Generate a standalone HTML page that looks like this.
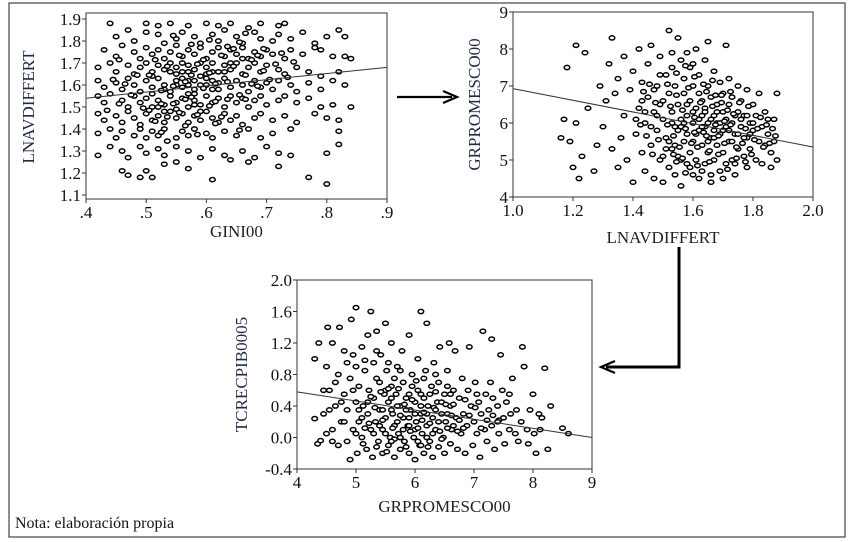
<!DOCTYPE html>
<html><head><meta charset="utf-8">
<style>
html,body{margin:0;padding:0;background:#fff;}
svg{display:block;}
text{font-family:"Liberation Serif","Times New Roman",serif;}
</style></head>
<body>
<svg id="fig" width="850" height="542" viewBox="0 0 850 542" xmlns="http://www.w3.org/2000/svg">
<rect x="9" y="3" width="836" height="534" fill="none" stroke="#444" stroke-width="1.2"/>
<text x="15" y="528" font-size="16" fill="#111" font-family="Liberation Serif, serif">Nota: elaboración propia</text>
<g>
<line x1="397" y1="97" x2="452" y2="97" stroke="#000" stroke-width="2.2"/>
<path d="M443,91 L457,97 L443,103" fill="none" stroke="#000" stroke-width="2.2"/>
</g>
<g>
<path d="M679,247 L679,367 L606,367" fill="none" stroke="#000" stroke-width="3"/>
<path d="M615,361 L601,367 L615,373" fill="none" stroke="#000" stroke-width="2.2"/>
</g>
</svg>
<script>
const NS="http://www.w3.org/2000/svg";
const svg=document.getElementById('fig');

// ---- Chart 1 data: GINI00 vs LNAVDIFFERT
const c1XTicks=[.4,.5,.6,.7,.8,.9];
const c1XLabels=[".4",".5",".6",".7",".8",".9"];
const c1YTicks=[1.1,1.2,1.3,1.4,1.5,1.6,1.7,1.8,1.9];
const c1YLabels=["1.1","1.2","1.3","1.4","1.5","1.6","1.7","1.8","1.9"];
const c1Fit=[1.54,1.68];
const c1Points="0.44,1.88 .47,1.85 .50,1.88 .52,1.87 .54,1.88 .57,1.87 .60,1.88 .62,1.87 .64,1.88 .67,1.86 .69,1.88 .72,1.87 .73,1.88 .45,1.82 .48,1.80 .50,1.84 .52,1.83 .53,1.79 .55,1.81 .56,1.84 .58,1.82 .59,1.79 .61,1.83 .62,1.80 .63,1.85 .65,1.82 .66,1.79 .68,1.84 .69,1.81 .71,1.80 .72,1.83 .74,1.81 .76,1.84 .78,1.79 .80,1.82 .82,1.85 .83,1.82 .43,1.76 .45,1.73 .46,1.78 .48,1.75 .49,1.72 .50,1.77 .51,1.74 .52,1.76 .53,1.72 .54,1.75 .55,1.78 .56,1.73 .57,1.76 .58,1.74 .59,1.77 .60,1.72 .61,1.75 .62,1.77 .63,1.73 .64,1.76 .65,1.74 .66,1.77 .67,1.72 .68,1.75 .69,1.73 .70,1.76 .71,1.74 .73,1.72 .74,1.76 .76,1.74 .78,1.77 .79,1.76 .81,1.73 .83,1.73 .84,1.72 .42,1.68 .44,1.70 .45,1.66 .47,1.69 .48,1.65 .49,1.68 .50,1.70 .51,1.66 .52,1.69 .53,1.67 .54,1.70 .55,1.65 .55,1.68 .56,1.70 .57,1.66 .57,1.69 .58,1.67 .59,1.70 .60,1.65 .60,1.68 .61,1.70 .62,1.66 .63,1.69 .64,1.67 .65,1.70 .66,1.65 .67,1.68 .68,1.70 .69,1.66 .70,1.69 .72,1.67 .73,1.65 .75,1.68 .77,1.66 .79,1.64 .82,1.66 .42,1.62 .43,1.59 .45,1.61 .46,1.58 .47,1.63 .48,1.60 .49,1.57 .50,1.62 .51,1.59 .52,1.63 .53,1.60 .54,1.57 .55,1.62 .56,1.59 .56,1.63 .57,1.60 .58,1.58 .58,1.62 .59,1.60 .60,1.63 .61,1.58 .62,1.61 .63,1.63 .64,1.59 .65,1.62 .66,1.60 .67,1.57 .68,1.62 .69,1.59 .70,1.61 .71,1.58 .72,1.62 .74,1.60 .75,1.57 .77,1.61 .79,1.58 .81,1.62 .83,1.60 .42,1.55 .43,1.52 .44,1.56 .46,1.53 .47,1.50 .48,1.55 .49,1.52 .50,1.54 .51,1.50 .51,1.56 .52,1.53 .53,1.51 .54,1.55 .55,1.52 .56,1.54 .57,1.50 .57,1.56 .58,1.53 .59,1.51 .60,1.55 .61,1.52 .62,1.54 .63,1.50 .64,1.55 .65,1.52 .66,1.54 .67,1.50 .68,1.53 .69,1.55 .70,1.51 .72,1.53 .73,1.55 .75,1.52 .77,1.54 .79,1.50 .81,1.51 .84,1.50 .42,1.47 .43,1.44 .45,1.46 .46,1.43 .47,1.48 .48,1.45 .49,1.42 .50,1.47 .51,1.44 .52,1.46 .53,1.43 .54,1.48 .55,1.45 .56,1.47 .57,1.43 .58,1.46 .59,1.44 .60,1.48 .61,1.45 .62,1.43 .63,1.47 .64,1.44 .65,1.46 .66,1.42 .68,1.45 .69,1.47 .71,1.44 .73,1.46 .75,1.43 .78,1.47 .80,1.45 .82,1.44 .42,1.38 .44,1.40 .45,1.36 .46,1.39 .48,1.37 .49,1.40 .50,1.36 .51,1.39 .52,1.37 .53,1.40 .55,1.36 .56,1.39 .57,1.37 .58,1.40 .60,1.38 .61,1.36 .63,1.39 .65,1.37 .67,1.40 .69,1.36 .71,1.38 .74,1.40 .82,1.39 .42,1.28 .44,1.32 .46,1.30 .47,1.27 .49,1.32 .50,1.29 .52,1.31 .53,1.28 .55,1.32 .57,1.30 .59,1.27 .61,1.31 .63,1.28 .66,1.30 .68,1.27 .70,1.32 .72,1.29 .74,1.28 .80,1.29 .82,1.33 .46,1.21 .47,1.19 .49,1.18 .50,1.21 .51,1.18 .53,1.24 .55,1.25 .57,1.22 .61,1.17 .64,1.26 .67,1.25 .72,1.23 .77,1.18 .80,1.15 .51,1.64 .53,1.58 .55,1.60 .56,1.66 .57,1.62 .58,1.56 .59,1.64 .60,1.60 .61,1.66 .62,1.58 .52,1.50 .53,1.48 .55,1.49 .58,1.51 .59,1.48 .61,1.62 .63,1.66 .64,1.70 .66,1.72 .54,1.66 .505,1.645 .515,1.715 .525,1.575 .535,1.685 .545,1.515 .555,1.735 .565,1.615 .575,1.545 .585,1.695 .595,1.585 .605,1.655 .615,1.525 .625,1.735 .635,1.615 .645,1.685 .655,1.555 .665,1.645 .675,1.715 .685,1.595 .695,1.665 .505,1.485 .515,1.435 .525,1.515 .535,1.455 .545,1.595 .555,1.475 .565,1.535 .575,1.645 .585,1.465 .595,1.715 .605,1.505 .615,1.605 .625,1.455 .635,1.535 .645,1.765 .655,1.795 .665,1.535 .675,1.605 .685,1.735 .705,1.625 .715,1.695 .725,1.745 .735,1.635 .745,1.705 .455,1.515 .465,1.605 .475,1.555 .485,1.645 .495,1.495 .435,1.485 .445,1.625 .455,1.715 .545,1.825 .575,1.785 .605,1.805 .635,1.775 .665,1.835 .695,1.765 .525,1.385 .565,1.415 .585,1.375 .535,1.345 .615,1.425 .655,1.395";

// ---- Chart 2 data: LNAVDIFFERT vs GRPROMESCO00
const c2XTicks=[1.0,1.2,1.4,1.6,1.8,2.0];
const c2XLabels=["1.0","1.2","1.4","1.6","1.8","2.0"];
const c2YTicks=[4,5,6,7,8,9];
const c2YLabels=["4","5","6","7","8","9"];
const c2Fit=[6.93,5.35];
const c2Points="1.16,5.6 1.17,6.1 1.18,7.5 1.19,5.5 1.20,4.8 1.21,6.0 1.22,4.5 1.23,5.1 1.21,8.1 1.24,7.9 1.25,6.4 1.27,4.7 1.28,5.4 1.29,7.0 1.30,5.9 1.31,6.6 1.32,7.6 1.33,8.3 1.33,5.3 1.34,6.8 1.35,4.8 1.35,7.2 1.36,5.6 1.37,6.2 1.37,7.8 1.38,5.0 1.39,6.9 1.40,4.4 1.40,7.4 1.41,5.7 1.42,6.4 1.42,8.0 1.43,5.2 1.43,7.1 1.44,6.0 1.44,4.7 1.45,6.7 1.45,7.6 1.46,5.4 1.46,8.1 1.47,6.3 1.47,4.5 1.48,7.0 1.48,5.8 1.49,6.5 1.49,7.8 1.50,5.1 1.50,6.1 1.50,4.4 1.51,7.3 1.51,5.6 1.52,6.8 1.52,8.5 1.53,5.3 1.53,6.3 1.53,7.5 1.54,4.6 1.54,5.9 1.54,7.0 1.55,6.5 1.55,5.1 1.55,8.3 1.56,6.1 1.56,7.7 1.56,4.3 1.57,5.5 1.57,6.8 1.57,7.2 1.58,4.9 1.58,6.2 1.58,5.7 1.59,7.5 1.59,6.6 1.59,5.2 1.60,4.6 1.60,6.0 1.60,7.0 1.60,5.5 1.61,6.4 1.61,8.0 1.61,5.0 1.62,6.8 1.62,5.8 1.62,7.3 1.62,4.5 1.63,6.2 1.63,5.4 1.63,6.6 1.64,7.7 1.64,5.9 1.64,4.9 1.64,6.4 1.65,5.2 1.65,7.0 1.65,6.0 1.65,8.2 1.66,5.6 1.66,6.7 1.66,4.4 1.67,6.2 1.67,5.0 1.67,7.4 1.67,5.8 1.68,6.5 1.68,5.4 1.68,6.0 1.69,7.1 1.69,4.7 1.69,5.7 1.70,6.3 1.70,5.2 1.70,6.8 1.71,5.9 1.71,8.1 1.71,4.9 1.72,6.5 1.72,5.5 1.72,7.2 1.73,6.0 1.73,5.0 1.73,6.7 1.74,5.7 1.74,4.6 1.75,6.3 1.75,5.3 1.75,7.0 1.76,5.9 1.76,6.6 1.77,5.1 1.77,6.2 1.78,5.6 1.78,6.9 1.78,4.8 1.79,6.0 1.79,5.3 1.80,6.5 1.80,5.8 1.81,5.0 1.81,6.2 1.82,5.5 1.82,6.8 1.83,5.9 1.83,4.9 1.84,6.3 1.84,5.4 1.85,5.7 1.85,6.1 1.86,5.2 1.86,4.8 1.87,5.5 1.87,6.1 1.88,5.0 1.88,6.8 1.55,5.8 1.57,6.0 1.58,6.5 1.60,6.3 1.61,5.7 1.62,6.1 1.63,5.9 1.64,6.3 1.65,5.5 1.66,6.1 1.67,5.6 1.68,6.3 1.69,6.0 1.70,5.8 1.71,6.1 1.72,5.8 1.73,5.5 1.74,6.2 1.75,5.7 1.76,6.1 1.77,5.6 1.78,6.2 1.79,5.7 1.80,6.0 1.52,5.5 1.53,6.0 1.54,5.4 1.56,5.9 1.48,6.2 1.46,5.9 1.47,6.9 1.50,6.6 1.51,5.3 1.44,6.3 1.43,6.6 1.41,6.1 1.49,5.0 1.52,4.8 1.56,5.0 1.59,4.8 1.63,4.7 1.66,4.6 1.70,4.5 1.74,4.9 1.58,7.9 1.60,7.6 1.53,7.9 1.49,7.3 1.515,5.95 1.525,6.45 1.535,5.65 1.545,6.75 1.555,5.35 1.565,6.35 1.575,5.85 1.585,6.95 1.595,5.45 1.605,6.15 1.615,5.35 1.625,6.55 1.635,5.75 1.645,6.85 1.655,5.25 1.665,6.45 1.675,5.95 1.685,5.65 1.695,6.55 1.705,5.45 1.715,6.35 1.725,5.95 1.735,6.25 1.745,5.35 1.755,6.55 1.765,5.45 1.775,5.85 1.785,6.45 1.795,5.15 1.805,5.55 1.815,5.85 1.825,6.15 1.835,5.35 1.845,5.95 1.855,5.45 1.865,5.85 1.875,5.65 1.485,5.55 1.475,6.55 1.465,5.15 1.455,7.05 1.445,5.65 1.435,6.85 1.425,5.95 1.515,7.05 1.545,7.35 1.575,7.55 1.605,7.25 1.635,7.05 1.665,7.15 1.695,6.75 1.725,6.85 1.545,4.95 1.575,4.65 1.615,4.85 1.655,4.95 1.685,5.15 1.715,4.75 1.745,5.05 1.775,4.95 1.535,5.15 1.565,5.05 1.605,5.75 1.645,5.65 1.675,6.75 1.705,6.05";

// ---- Chart 3 data: GRPROMESCO00 vs TCRECPIB0005
const c3XTicks=[4,5,6,7,8,9];
const c3XLabels=["4","5","6","7","8","9"];
const c3YTicks=[-0.4,0,0.4,0.8,1.2,1.6,2.0];
const c3YLabels=["-0.4","0.0","0.4","0.8","1.2","1.6","2.0"];
const c3Fit=[0.58,0.0];
const c3Points="4.3,0.24 4.3,1.0 4.35,-0.08 4.37,1.2 4.4,-0.04 4.45,0.3 4.5,0.9 4.52,1.4 4.55,0.6 4.6,0.1 4.6,1.2 4.65,0.4 4.7,0.8 4.7,-0.1 4.72,1.4 4.75,0.2 4.8,0.55 4.8,1.1 4.85,-0.05 4.85,0.35 4.9,0.75 4.9,-0.28 4.92,1.5 4.95,0.1 5.0,0.45 5.0,0.9 5.0,1.65 5.02,-0.2 5.05,0.2 5.05,0.65 5.1,1.15 5.1,0.0 5.12,0.4 5.15,0.85 5.18,-0.15 5.2,0.3 5.2,1.3 5.22,0.6 5.25,0.1 5.25,1.6 5.28,-0.25 5.3,0.5 5.3,0.95 5.33,0.2 5.35,1.35 5.38,-0.05 5.4,0.7 5.4,0.35 5.42,1.05 5.45,0.1 5.45,-0.2 5.48,0.55 5.5,1.45 5.5,0.25 5.52,0.85 5.55,-0.1 5.55,0.45 5.58,0.0 5.6,0.65 5.6,1.2 5.62,0.3 5.65,-0.25 5.65,0.15 5.68,0.55 5.7,0.9 5.72,0.05 5.75,0.4 5.75,-0.15 5.78,1.1 5.8,0.25 5.8,0.7 5.82,-0.05 5.85,0.5 5.88,0.15 5.9,1.3 5.9,-0.2 5.92,0.35 5.95,0.8 5.98,0.0 6.0,0.45 6.0,-0.28 6.02,0.2 6.05,0.6 6.05,1.0 6.08,-0.1 6.1,0.3 6.1,1.6 6.12,0.05 6.15,0.5 6.15,-0.2 6.18,0.85 6.2,0.15 6.2,1.45 6.22,0.4 6.25,-0.05 6.28,0.65 6.3,0.25 6.3,-0.25 6.32,0.95 6.35,0.1 6.38,0.45 6.4,-0.12 6.4,0.7 6.42,1.15 6.45,0.3 6.48,0.0 6.5,0.55 6.5,-0.2 6.52,0.2 6.55,0.85 6.58,1.2 6.6,0.4 6.6,-0.08 6.62,0.1 6.65,0.6 6.68,1.1 6.7,0.25 6.72,-0.15 6.75,0.5 6.78,0.05 6.8,0.75 6.82,0.3 6.85,-0.2 6.88,0.15 6.9,0.6 6.92,1.15 6.95,0.4 6.98,-0.1 7.0,0.2 7.02,0.7 7.05,0.05 7.08,0.45 7.1,-0.25 7.12,0.3 7.15,1.35 7.18,0.1 7.2,0.55 7.22,-0.05 7.25,0.35 7.28,0.7 7.3,1.25 7.3,0.15 7.32,0.5 7.35,-0.15 7.4,0.4 7.42,0.05 7.45,1.05 7.48,0.6 7.5,0.25 7.52,-0.08 7.55,0.45 7.6,0.1 7.62,0.3 7.65,0.75 7.7,0.05 7.72,0.35 7.75,-0.05 7.8,0.2 7.82,1.15 7.85,0.9 7.9,0.1 7.92,-0.08 7.95,0.35 8.0,0.55 8.02,0.05 8.05,-0.2 8.1,0.3 8.12,0.1 8.15,0.25 8.2,0.88 8.25,-0.15 8.3,0.4 8.5,0.12 8.6,0.05 5.3,0.05 5.4,0.15 5.5,0.05 5.6,0.35 5.7,0.2 5.8,0.1 5.9,0.25 6.0,0.1 6.1,0.4 6.2,0.3 6.3,0.05 6.4,0.2 5.5,0.6 5.6,0.5 5.7,0.4 5.9,0.55 6.0,0.3 6.1,-0.1 6.2,0.0 5.2,0.45 5.1,0.25 5.0,0.05 4.95,0.6 4.8,0.2 5.35,0.75 5.65,0.75 6.25,0.55 6.45,0.45 6.55,0.3 6.65,0.15 5.45,0.35 5.85,0.35 6.05,-0.05 5.75,0.0 5.05,0.35 5.15,0.12 5.25,0.52 5.35,-0.12 5.45,0.22 5.55,0.62 5.65,-0.02 5.75,0.28 5.85,-0.12 5.95,0.48 6.05,0.12 6.15,0.32 6.25,0.18 6.35,0.58 6.45,-0.02 6.55,0.12 6.65,0.42 6.75,0.22 6.85,0.48 5.12,-0.08 5.22,0.18 5.32,0.38 5.42,0.58 5.52,-0.18 5.62,0.12 5.72,0.62 5.82,0.42 5.92,0.08 6.02,0.72 6.12,0.22 6.22,-0.12 6.32,0.38 6.42,0.08 6.52,0.42 6.62,0.28 6.72,0.08 6.82,0.12 6.92,0.28 7.02,0.38 7.12,0.12 7.22,0.22 7.32,0.28 7.42,0.22 4.75,0.45 4.65,0.7 4.85,0.95 4.95,1.05 5.15,0.98 5.35,1.1 5.55,0.95 5.75,0.85 5.95,0.65 6.15,0.75 6.35,0.8 6.55,0.65 4.55,0.35 4.45,0.6 4.5,0.05 4.6,-0.05 5.6,-0.05 5.9,0.15 6.1,0.55 6.35,0.35 6.6,0.55 7.05,0.55 7.4,0.2 7.6,0.55";

function el(tag,attrs,parent){const e=document.createElementNS(NS,tag);for(const k in attrs)e.setAttribute(k,attrs[k]);(parent||svg).appendChild(e);return e;}
function parse(s){return s.trim().split(/\s+/).map(p=>p.split(',').map(Number));}
const FONT='Liberation Serif, Times New Roman, serif';

function chart(cfg){
  const g=el('g',{});
  
  
  const x0=cfg.xDom[0],x1=cfg.xDom[1],y0=cfg.yDom[0],y1=cfg.yDom[1];
  const sx=v=>cfg.L+(v-x0)/(x1-x0)*(cfg.R-cfg.L);
  const sy=v=>cfg.B-(v-y0)/(y1-y0)*(cfg.B-cfg.T);
  const pts=parse(cfg.points);
  const pg=el('g',{},g);
  
  
  pts.forEach(p=>{
    const c=el('ellipse',{cx:sx(p[0]).toFixed(1),cy:sy(p[1]).toFixed(1),rx:2.8,ry:2.1,fill:'#fff',stroke:'#000','stroke-width':1.5},pg);
    
    
  });
  const fl=el('line',{x1:sx(x0),y1:sy(cfg.fit[0]),x2:sx(x1),y2:sy(cfg.fit[1]),stroke:'#333','stroke-width':1},g);
  
  
  const fr=el('rect',{x:cfg.L,y:cfg.frameT,width:cfg.R-cfg.L,height:cfg.B-cfg.frameT+cfg.padB,fill:'none',stroke:'#555','stroke-width':1.2},g);
  
  
  const fb=cfg.B+cfg.padB;
  cfg.xTicks.forEach((t,i)=>{
    el('line',{x1:sx(t),y1:fb,x2:sx(t),y2:fb+4,stroke:'#333'},g);
    const tx=el('text',{x:sx(t),y:fb+19,'font-size':17,'font-family':FONT,'text-anchor':'middle',fill:'#111'},g);
    tx.textContent=cfg.xLabels[i];
    
    
  });
  cfg.yTicks.forEach((t,i)=>{
    el('line',{x1:cfg.L-4,y1:sy(t),x2:cfg.L,y2:sy(t),stroke:'#333'},g);
    const tx=el('text',{x:cfg.L-5,y:sy(t)+6,'font-size':17,'font-family':FONT,'text-anchor':'end',fill:'#111'},g);
    tx.textContent=cfg.yLabels[i];
    
    
  });
  const xt=el('text',{x:(cfg.L+cfg.R)/2,y:cfg.xTitleY,'font-size':17,'font-family':FONT,'text-anchor':'middle',fill:'#222'},g);
  xt.textContent=cfg.xTitle;
  
  
  const yt=el('text',{x:0,y:0,'font-size':17,'font-family':FONT,'text-anchor':'middle',fill:'#1f2a44',transform:`translate(${cfg.yTitleX},${(cfg.T+cfg.B)/2}) rotate(-90)`},g);
  yt.textContent=cfg.yTitle;
  
  
}

chart({name:'chart-gini-vs-fertility',L:86,R:387,T:19,B:195,frameT:13,padB:4,xDom:[.4,.9],yDom:[1.1,1.9],
  xTicks:c1XTicks,xLabels:c1XLabels,yTicks:c1YTicks,yLabels:c1YLabels,fit:c1Fit,points:c1Points,
  xTitle:'GINI00',xTitleY:237,yTitle:'LNAVDIFFERT',yTitleX:34});
chart({name:'chart-fertility-vs-schooling',L:513,R:813,T:12,B:197,frameT:12,padB:0,xDom:[1,2],yDom:[4,9],
  xTicks:c2XTicks,xLabels:c2XLabels,yTicks:c2YTicks,yLabels:c2YLabels,fit:c2Fit,points:c2Points,
  xTitle:'LNAVDIFFERT',xTitleY:243,yTitle:'GRPROMESCO00',yTitleX:480});
chart({name:'chart-schooling-vs-growth',L:297,R:592,T:280,B:469,frameT:280,padB:0,xDom:[4,9],yDom:[-0.4,2.0],
  xTicks:c3XTicks,xLabels:c3XLabels,yTicks:c3YTicks,yLabels:c3YLabels,fit:c3Fit,points:c3Points,
  xTitle:'GRPROMESCO00',xTitleY:512,yTitle:'TCRECPIB0005',yTitleX:247});
</script>
</body></html>
